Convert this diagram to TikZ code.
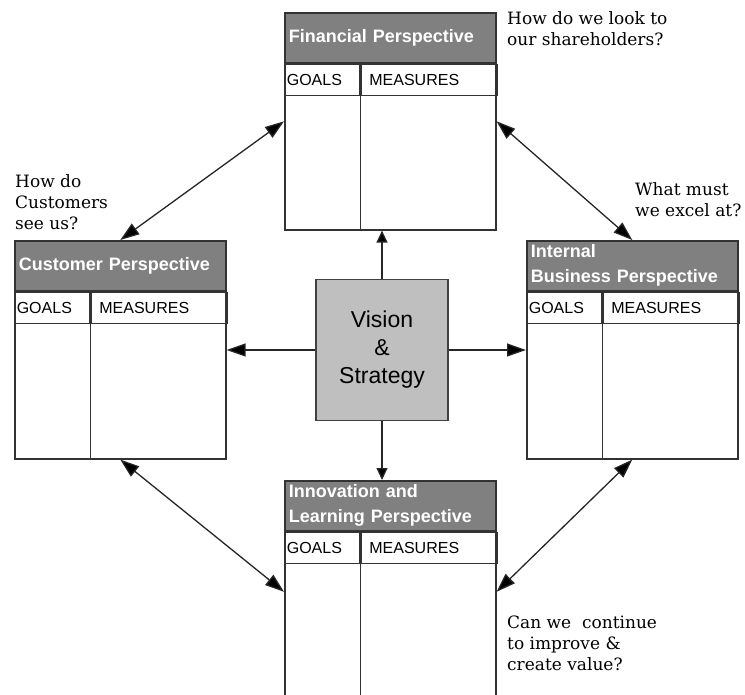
\documentclass[tikz,border=0pt]{standalone}
\usepackage{fontspec}
\setmainfont{DejaVu Serif}
\setsansfont{Liberation Sans}
\usetikzlibrary{arrows.meta}

\begin{document}
\begin{tikzpicture}[x=1pt,y=-1pt,
		>={Triangle[length=19pt,width=13pt,fill=black]},
		frame/.style={draw=black!80,line width=1.6pt,inner sep=0pt,minimum width=211pt,anchor=north west},
		header/.style={fill=black!50,draw=black!80,line width=1.6pt,inner xsep=4pt,inner ysep=0pt,text width=203pt,minimum height=50pt,anchor=north west,align=left,text=white,font=\sffamily\bfseries\fontsize{18}{25}\selectfont},
		goals/.style={draw=black!80,line width=1.6pt,inner xsep=2pt,inner ysep=0pt,text width=71pt,minimum height=31pt,anchor=north west,font=\sffamily\fontsize{16}{19}\selectfont},
		measures/.style={draw=black!80,line width=1.6pt,inner xsep=8pt,inner ysep=0pt,text width=120pt,minimum height=31pt,anchor=north west,font=\sffamily\fontsize{16}{19}\selectfont},
		rule/.style={draw=black!80,line width=1.6pt},
		vision/.style={draw=black!75,line width=1.2pt,fill=black!25,minimum width=132pt,minimum height=141pt,align=center,font=\sffamily\fontsize{23}{28}\selectfont},
		question/.style={anchor=north west,align=left,inner sep=0pt,font=\fontsize{17}{21}\selectfont},
		link/.style={draw=black!85,line width=1.3pt}]
	\useasboundingbox (0,0) rectangle (745,695);
	\node[frame,minimum height=217pt] (fin) at (284,12) {};
	\node[header] (finhead) at (fin.north west) {Financial Perspective};
	\node[goals] (fingoals) at (finhead.south west) {GOALS};
	\node[measures] (finmeas) at (fingoals.north east) {MEASURES};
	\draw[rule] (fingoals.south east) -- (fingoals.south east |- fin.south);
	\node[frame,minimum height=218pt] (cust) at (14,240) {};
	\node[header] (custhead) at (cust.north west) {Customer Perspective};
	\node[goals] (custgoals) at (custhead.south west) {GOALS};
	\node[measures] (custmeas) at (custgoals.north east) {MEASURES};
	\draw[rule] (custgoals.south east) -- (custgoals.south east |- cust.south);
	\node[frame,minimum height=218pt] (intl) at (526,240) {};
	\node[header] (intlhead) at (intl.north west) {Internal\\Business Perspective};
	\node[goals] (intlgoals) at (intlhead.south west) {GOALS};
	\node[measures] (intlmeas) at (intlgoals.north east) {MEASURES};
	\draw[rule] (intlgoals.south east) -- (intlgoals.south east |- intl.south);
	\node[frame,minimum height=222pt] (innov) at (284,480) {};
	\node[header] (innovhead) at (innov.north west) {Innovation and\\Learning Perspective};
	\node[goals] (innovgoals) at (innovhead.south west) {GOALS};
	\node[measures] (innovmeas) at (innovgoals.north east) {MEASURES};
	\draw[rule] (innovgoals.south east) -- (innovgoals.south east |- innov.south);
	\node[vision] (vis) at (382,350) {Vision\\\&\\Strategy};
	\node[question] (finq) at (507,11) {How do we look to\\our shareholders?};
	\node[question] (custq) at (15,174) {How do\\Customers\\see us?};
	\node[question] (intlq) at (635,182) {What must\\we excel at?};
	\node[question] (innovq) at (507,616) {Can we \ continue\\to improve \&\\create value?};
	\draw[link,<->] (fin.west) -- (cust.north);
	\draw[link,<->] (fin.east) -- (intl.north);
	\draw[link,<->] (cust.south) -- (innov.west);
	\draw[link,<->] (innov.east) -- (intl.south);
	\draw[link,-{Triangle[length=12pt,width=11pt,fill=black]}] (vis.north) -- (vis.north |- fin.south);
	\draw[link,-{Triangle[length=12pt,width=11pt,fill=black]}] (vis.south) -- (vis.south |- innov.north);
	\draw[link,->] (vis.west) -- (vis.west -| cust.east);
	\draw[link,->] (vis.east) -- (vis.east -| intl.west);
\end{tikzpicture}
\end{document}
